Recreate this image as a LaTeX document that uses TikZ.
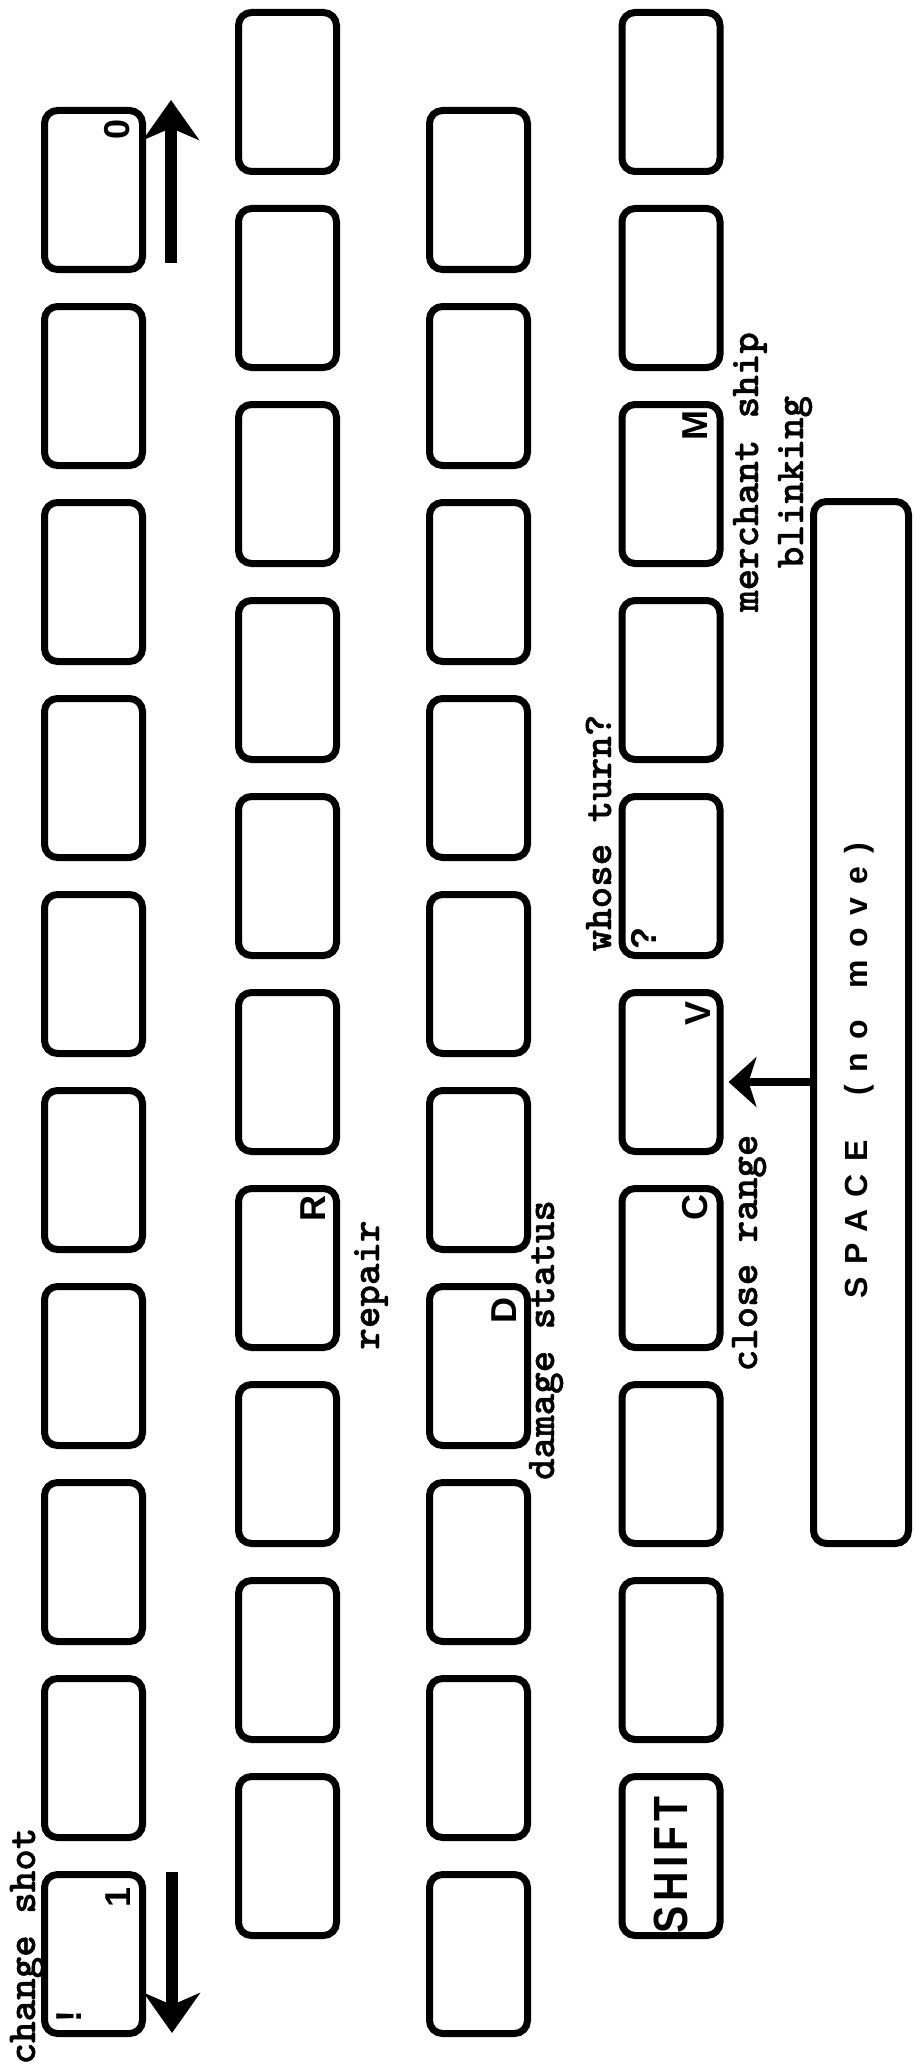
\documentclass[tikz,border=0pt]{standalone}
\usepackage{fontspec}
\usepackage{graphicx}
\setmainfont{Liberation Serif}
\newfontfamily\twfont{lmmonolt10-bold.otf}[FakeBold=1]
\newfontfamily\keyfont{Liberation Sans}
\usetikzlibrary{arrows.meta}
\begin{document}
\begin{tikzpicture}[x=1pt,y=-1pt,
  keybox/.style={draw=black, line width=7pt, rounded corners=13pt, minimum width=98pt, minimum height=159pt, inner sep=0pt},
  spacebox/.style={keybox, minimum width=95pt, minimum height=1042pt},
  legend/.style={rotate=90, inner sep=0pt, font=\keyfont\bfseries\fontsize{36}{36}\selectfont},
  note/.style={rotate=90, inner sep=0pt, anchor=base, font=\twfont\fontsize{41}{45}\selectfont},
  bigarrow/.style={line width=12pt, -{Stealth[length=40pt,width=56pt,inset=12pt]}},
  smallarrow/.style={line width=8pt, -{Stealth[length=28pt,width=50pt,inset=8pt]}},
]
\useasboundingbox[fill=white] (0,0) rectangle (914,2068);

% keys
\foreach \k in {0,...,9} {
  \node[keybox] (ra\k) at (93.5,{190+196*\k}) {};
  \node[keybox] (rb\k) at (287.5,{92+196*\k}) {};
  \node[keybox] (rc\k) at (478.5,{190+196*\k}) {};
  \node[keybox] (rd\k) at (671,{92+196*\k}) {};
}
\node[spacebox] (sp) at (861,1022.5) {};

% legends on keys
\node[legend] (l0) at (117,129) {0};
\node[legend] (l1) at (118,1897) {1};
\node[legend] (lex) at (69,2016) {!};
\node[legend] (lR) at (313,1208) {R};
\node[legend] (lD) at (504,1310) {D};
\node[legend] (lC) at (695,1207) {C};
\node[legend] (lV) at (698,1013) {V};
\node[legend] (lM) at (695,426) {M};
\node[legend] (lq) at (644,938) {?};
\node[rotate=90, inner sep=0pt, font=\keyfont\bfseries\fontsize{48}{48}\selectfont\addfontfeature{LetterSpace=12}] (lshift) at (671,1865) {\scalebox{0.85}[1]{SHIFT}};
\node[rotate=90, inner sep=0pt, anchor=base west, font=\keyfont\bfseries\fontsize{32}{32}\selectfont\addfontfeature{LetterSpace=40}] (lspace) at (867,1299) {SPACE\hspace{44pt}(no\hspace{10pt} move)};

% notes
\node[note] (nchange) at (35,1946) {change shot};
\node[note] (nrepair) at (379,1285) {repair};
\node[note] (ndamage) at (554,1340) {damage status};
\node[note] (nclose) at (757,1253) {close range};
\node[note] (nwhose) at (611,833) {whose turn?};
\node[note] (nmerch) at (758,472) {merchant ship};
\node[note] (nblink) at (803,482) {blinking};

% arrows
\coordinate (upS) at (171,263);
\coordinate (upE) at (171,100);
\draw[bigarrow] (upS) -- (upE);
\coordinate (dnS) at (172,1872);
\coordinate (dnE) at (172,2033);
\draw[bigarrow] (dnS) -- (dnE);
\draw[smallarrow] ([yshift=-10pt]sp.west |- rd5.east) -- ([xshift=5pt,yshift=-10pt]rd5.east);
\end{tikzpicture}
\end{document}
